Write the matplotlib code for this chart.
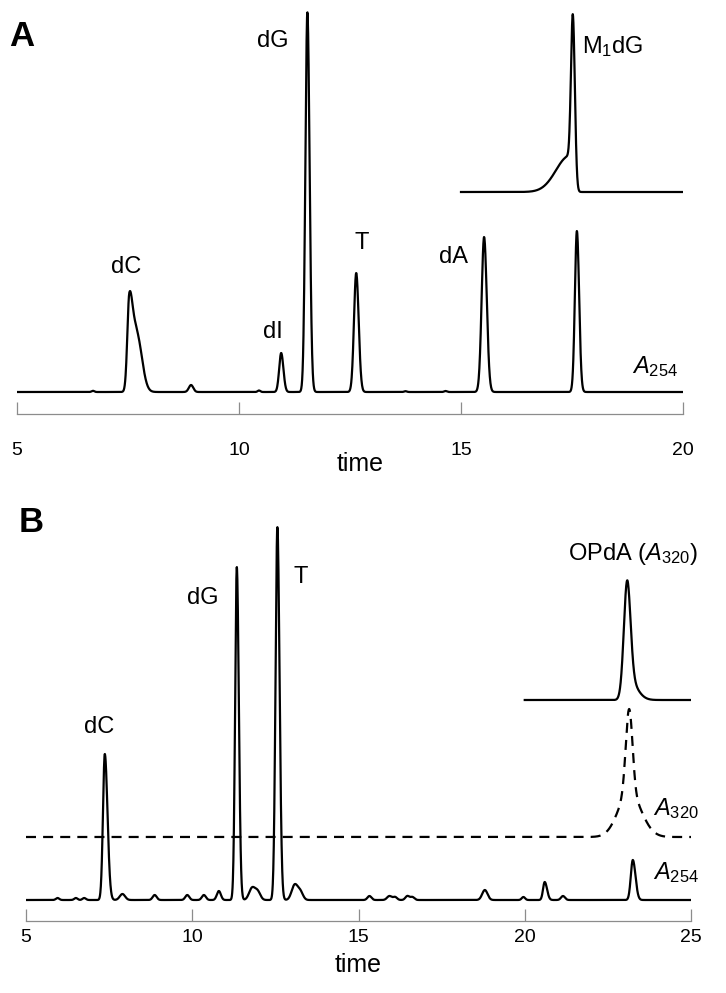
import numpy as np
import matplotlib
matplotlib.use("Agg")
import matplotlib.pyplot as plt

plt.rcParams['font.family'] = ['Liberation Sans', 'DejaVu Sans']
plt.rcParams['mathtext.fontset'] = 'custom'
plt.rcParams['mathtext.rm'] = 'Liberation Sans'
plt.rcParams['mathtext.it'] = 'Liberation Sans:italic'

# panel A, A254 trace: retention time, height, left width, right width
a_rt = [6.71, 7.53, 7.70, 8.92, 10.45, 10.95, 11.54, 12.64, 13.75, 14.65, 15.52, 17.61]
a_h = [1.2, 90, 56, 7, 1.5, 39, 380, 119, 0.8, 1.0, 155, 161]
a_wl = [0.03, 0.045, 0.09, 0.05, 0.03, 0.045, 0.045, 0.05, 0.03, 0.03, 0.055, 0.045]
a_wr = [0.03, 0.075, 0.115, 0.05, 0.03, 0.05, 0.05, 0.055, 0.03, 0.03, 0.06, 0.05]

# panel A inset, M1dG standard
m_rt = [17.52, 17.44]
m_h = [170, 36]
m_wl = [0.04, 0.30]
m_wr = [0.045, 0.045]
m_offset = 200

# panel B, A254 trace
b_rt = [5.95, 6.5, 6.75, 7.37, 7.9, 8.87, 9.85, 10.35, 10.8, 11.34, 11.8, 11.97,
        12.56, 13.08, 13.25, 15.33, 15.93, 16.1, 16.47, 16.62, 18.8, 19.96,
        20.6, 21.15, 23.25]
b_h = [2, 2, 2, 146, 6, 5, 5, 5, 9, 333, 12, 8,
       373, 15, 8, 4, 4, 3, 4, 3, 10, 3,
       18, 4, 40]
b_wl = [0.05, 0.05, 0.05, 0.055, 0.08, 0.06, 0.06, 0.06, 0.06, 0.05, 0.09, 0.08,
        0.055, 0.09, 0.08, 0.06, 0.07, 0.06, 0.06, 0.06, 0.08, 0.05,
        0.05, 0.06, 0.06]
b_wr = [0.05, 0.05, 0.05, 0.08, 0.08, 0.06, 0.06, 0.06, 0.06, 0.06, 0.09, 0.08,
        0.065, 0.09, 0.08, 0.06, 0.07, 0.06, 0.06, 0.06, 0.08, 0.05,
        0.07, 0.06, 0.08]

# panel B, A320 trace (dashed)
d_rt = [23.14, 23.14]
d_h = [84, 44]
d_wl = [0.10, 0.33]
d_wr = [0.10, 0.36]
d_offset = 63

# panel B inset, OPdA standard (A320)
o_rt = [23.08, 23.10]
o_h = [98, 22]
o_wl = [0.10, 0.11]
o_wr = [0.10, 0.25]
o_offset = 200


def trace(t, rt, h, wl, wr):
    y = np.zeros_like(t)
    for c, hh, l, r in zip(rt, h, wl, wr):
        w = np.where(t < c, l, r)
        y += hh * np.exp(-0.5 * ((t - c) / w) ** 2)
    return y


W, H = 726, 993
fig = plt.figure(figsize=(W / 100, H / 100), dpi=100)


def px_axes(x0, x1, ytop, ybot):
    return fig.add_axes([x0 / W, 1 - ybot / H, (x1 - x0) / W, (ybot - ytop) / H])


def style(ax, pad):
    for s in ['left', 'right', 'top']:
        ax.spines[s].set_visible(False)
    ax.spines['bottom'].set_color('#8c8c8c')
    ax.spines['bottom'].set_linewidth(0.9)
    ax.set_yticks([])
    ax.tick_params(axis='x', direction='in', length=8.5, width=0.9,
                   color='#8c8c8c', labelsize=14, pad=pad)


lw = 1.6
lab = 17

# ---------- panel A ----------
axA = px_axes(17, 683, 0, 414)
style(axA, 20)
tA = np.linspace(5, 20, 3000)
axA.plot(tA, trace(tA, a_rt, a_h, a_wl, a_wr), color='black', lw=lw)
tM = np.linspace(15, 20, 2000)
axA.plot(tM, m_offset + trace(tM, m_rt, m_h, m_wl, m_wr), color='black', lw=lw)
axA.set_xlim(5, 20)
axA.set_ylim(-22, 392)
axA.set_xticks([5, 10, 15, 20])
axA.set_xlabel('time', fontsize=18)
axA.xaxis.set_label_coords(0.515, -0.092)

axA.text(7.45, 125, 'dC', fontsize=lab, ha='center', va='center')
axA.text(10.77, 60, 'dI', fontsize=lab, ha='center', va='center')
axA.text(10.77, 351, 'dG', fontsize=lab, ha='center', va='center')
axA.text(12.77, 149, 'T', fontsize=lab, ha='center', va='center')
axA.text(14.82, 135, 'dA', fontsize=lab, ha='center', va='center')
axA.text(17.73, 345, r'M$_{\mathrm{1}}$dG', fontsize=lab, ha='left', va='center')
axA.text(19.89, 25, r'$A_{\mathrm{254}}$', fontsize=lab, ha='right', va='center')
fig.text(9 / W, 1 - 37 / H, 'A', fontsize=25, fontweight='bold', va='center', ha='left')

# ---------- panel B ----------
axB = px_axes(26, 691, 480, 921)
style(axB, 6)
tB = np.linspace(5, 25, 4000)
axB.plot(tB, trace(tB, b_rt, b_h, b_wl, b_wr), color='black', lw=lw)
axB.plot(tB, d_offset + trace(tB, d_rt, d_h, d_wl, d_wr), color='black', lw=lw,
         linestyle=(0, (4.5, 3.2)))
tO = np.linspace(20, 25, 2000)
axB.plot(tO, o_offset + trace(tO, o_rt, o_h, o_wl, o_wr), color='black', lw=lw)
axB.set_xlim(5, 25)
axB.set_ylim(-21, 420)
axB.set_xticks([5, 10, 15, 20, 25])
axB.set_xlabel('time', fontsize=18)
axB.xaxis.set_label_coords(0.5, -0.072)

axB.text(7.21, 173, 'dC', fontsize=lab, ha='center', va='center')
axB.text(10.32, 302, 'dG', fontsize=lab, ha='center', va='center')
axB.text(13.26, 323, 'T', fontsize=lab, ha='center', va='center')
axB.text(21.3, 346, r'OPdA ($A_{\mathrm{320}}$)', fontsize=lab, ha='left', va='center')
axB.text(23.85, 91, r'$A_{\mathrm{320}}$', fontsize=lab, ha='left', va='center')
axB.text(23.85, 27, r'$A_{\mathrm{254}}$', fontsize=lab, ha='left', va='center')
fig.text(19 / W, 1 - 522 / H, 'B', fontsize=25, fontweight='bold', va='center', ha='left')

fig.savefig('out.png', dpi=100)
